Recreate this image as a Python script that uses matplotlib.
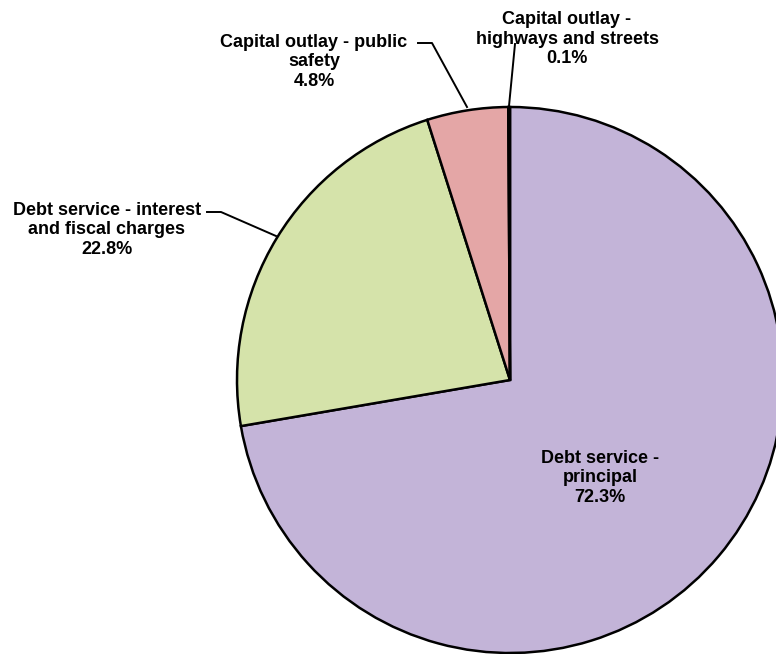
import matplotlib
matplotlib.use("Agg")
import matplotlib.pyplot as plt

plt.rcParams['font.family'] = ['Liberation Sans', 'DejaVu Sans']

# Expenditure shares, clockwise from 12 o'clock
categories = ['Debt service -\nprincipal',
              'Debt service - interest\nand fiscal charges',
              'Capital outlay - public\nsafety',
              'Capital outlay -\nhighways and streets']
shares = [72.3, 22.8, 4.8, 0.1]
colors = ['#c3b4d8', '#d5e3aa', '#e4a6a6', '#333333']

fig = plt.figure(figsize=(7.76, 6.54), dpi=100)
ax = fig.add_axes([0, 0, 1, 1])

# pie laid out in pixel-like units (y measured up from the bottom)
cx, cy, r = 510, 274, 273
ax.pie(shares, colors=colors, startangle=90, counterclock=False,
       center=(cx, cy), radius=r, frame=True,
       wedgeprops=dict(edgecolor='black', linewidth=1.8))
ax.set_xlim(0, 776)
ax.set_ylim(0, 654)
ax.set_aspect('equal')
ax.axis('off')

txt = dict(ha='center', va='center', fontsize=13, fontweight='bold',
           linespacing=1.17)

def lab(i):
    return f"{categories[i]}\n{shares[i]:.1f}%"

ax.text(600, 654 - 478, lab(0), **txt)
ax.text(107, 654 - 230, lab(1), **txt)
ax.text(314, 654 - 62, lab(2), **txt)
ax.text(567, 654 - 39, lab(3), **txt)

# leader lines from labels to their slices
lk = dict(color='black', linewidth=1.4)
ax.plot([207, 221, 276], [654 - 212, 654 - 212, 654 - 236], **lk)
ax.plot([418, 432, 467], [654 - 43, 654 - 43, 654 - 107], **lk)
ax.plot([515, 509], [654 - 44, 654 - 106], **lk)

fig.savefig('out.png', dpi=100)
